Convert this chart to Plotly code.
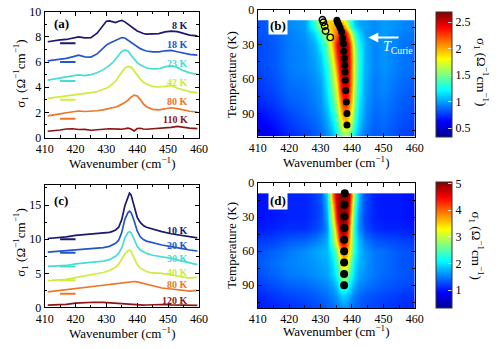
import plotly.graph_objects as go

FONT = "Liberation Serif"

# ---------------- panel (a) data ----------------
wn_a = [411, 413, 415, 417, 419, 421, 423, 425, 427, 429, 430, 431, 432, 433, 434, 435,
        436, 437, 438, 439, 440, 441, 442, 443, 445, 447, 449, 451, 453, 455, 457, 459.5]
a_8K = [7.62, 7.7, 7.76, 7.8, 7.88, 8.0, 7.92, 7.95, 8.3, 8.95, 9.25, 9.28, 9.24, 9.15, 9.25, 9.32,
        9.2, 9.0, 8.82, 8.65, 8.48, 8.36, 8.27, 8.22, 8.22, 8.27, 8.4, 8.47, 8.42, 8.28, 8.15, 8.08]
a_18K = [6.1, 6.16, 6.22, 6.3, 6.42, 6.55, 6.42, 6.4, 6.65, 7.15, 7.35, 7.5, 7.62, 7.73, 7.86, 7.95,
         7.92, 7.75, 7.55, 7.38, 7.2, 7.07, 6.96, 6.88, 6.82, 6.82, 6.9, 6.93, 6.82, 6.7, 6.62, 6.55]
a_23K = [4.57, 4.64, 4.7, 4.78, 4.9, 4.98, 4.92, 5.0, 5.15, 5.4, 5.55, 5.74, 5.95, 6.22, 6.55, 6.85,
         6.96, 6.88, 6.55, 6.22, 5.96, 5.78, 5.63, 5.53, 5.46, 5.47, 5.62, 5.72, 5.58, 5.32, 5.14, 5.03]
a_42K = [3.12, 3.18, 3.24, 3.28, 3.34, 3.42, 3.48, 3.57, 3.66, 3.82, 3.92, 4.06, 4.24, 4.48, 4.85, 5.2,
         5.52, 5.66, 5.6, 5.3, 4.95, 4.65, 4.42, 4.25, 4.07, 4.02, 4.07, 4.15, 3.92, 3.76, 3.65, 3.55]
a_80K = [1.72, 1.78, 1.88, 1.97, 2.06, 2.11, 2.07, 2.09, 2.13, 2.2, 2.25, 2.3, 2.36, 2.43, 2.52, 2.62,
         2.78, 2.98, 3.22, 3.37, 3.3, 3.02, 2.68, 2.45, 2.24, 2.2, 2.29, 2.37, 2.3, 2.18, 2.09, 2.03]
a_110K = [0.5, 0.53, 0.6, 0.68, 0.7, 0.64, 0.65, 0.58, 0.6, 0.66, 0.68, 0.7, 0.71, 0.69, 0.67, 0.66,
          0.7, 0.75, 0.68, 0.52, 0.72, 0.74, 0.68, 0.66, 0.7, 0.72, 0.76, 0.81, 0.88, 0.8, 0.75, 0.71]
labels_a = ["8 K", "18 K", "23 K", "42 K", "80 K", "110 K"]
label_y_a = [8.9, 7.4, 5.9, 4.4, 2.9, 1.4]
zero_a = [7.5, 6.0, 4.5, 3.0, 1.5]

# ---------------- panel (c) data ----------------
wn_c = [411, 414, 417, 420, 423, 426, 429, 431, 432, 433, 434, 435, 436, 437, 437.5, 438,
        439, 440, 441, 442, 443, 445, 448, 451, 454, 457, 459.5]
c_10K = [10.1, 10.2, 10.35, 10.55, 10.68, 10.72, 10.85, 11.0, 11.15, 11.35, 11.75, 12.9, 14.9, 16.3, 16.75, 16.5,
         14.8, 13.2, 12.45, 12.0, 11.75, 11.45, 11.1, 10.8, 10.6, 10.35, 10.2]
c_20K = [8.1, 8.2, 8.3, 8.45, 8.55, 8.65, 8.77, 8.95, 9.12, 9.4, 9.85, 11.0, 12.9, 13.9, 14.1, 13.9,
         12.7, 11.2, 10.35, 9.95, 9.72, 9.48, 9.15, 8.92, 8.65, 8.42, 8.27]
c_30K = [6.02, 6.06, 6.15, 6.38, 6.53, 6.63, 6.78, 7.0, 7.25, 7.5, 7.95, 8.75, 10.2, 11.0, 11.1, 10.95,
         10.0, 8.95, 8.4, 8.1, 7.92, 7.65, 7.48, 7.2, 6.85, 6.5, 6.27]
c_40K = [3.92, 4.0, 4.12, 4.37, 4.6, 4.85, 5.12, 5.42, 5.62, 5.9, 6.35, 7.05, 7.85, 8.3, 8.37, 8.2,
         7.3, 6.3, 5.75, 5.45, 5.27, 5.05, 5.0, 4.75, 4.48, 4.3, 4.42]
c_80K = [2.27, 2.42, 2.56, 2.74, 2.9, 3.06, 3.24, 3.36, 3.42, 3.48, 3.55, 3.62, 3.68, 3.74, 3.77, 3.8,
         3.8, 3.74, 3.62, 3.5, 3.36, 3.1, 2.85, 2.7, 2.55, 2.4, 2.5]
c_120K = [0.33, 0.38, 0.46, 0.64, 0.72, 0.76, 0.74, 0.68, 0.63, 0.58, 0.53, 0.49, 0.44, 0.42, 0.4, 0.38,
          0.34, 0.33, 0.34, 0.35, 0.36, 0.41, 0.43, 0.37, 0.33, 0.3, 0.3]
labels_c = ["10 K", "20 K", "30 K", "40 K", "80 K", "120 K"]
label_y_c = [11.3, 9.1, 7.1, 5.1, 3.3, 1.0]
zero_c = [10, 8, 6, 4, 2]

colors = ["rgb(28,24,110)", "rgb(35,85,205)", "rgb(70,222,212)",
          "rgb(205,236,60)", "rgb(236,118,42)", "rgb(140,22,22)"]

# ---------------- heatmap data (b) and (d) ----------------
wn_hm = [410, 415, 420, 425, 428, 430, 432, 434, 435, 436, 437, 438, 439, 440, 441, 442, 444, 447, 450, 455, 460]
T_hm = [9.5, 10.5, 15, 20, 30, 40, 50, 60, 70, 80, 90, 100, 110]
z_b = [
    [0.82, 0.86, 0.95, 1.0, 1.35, 1.72, 1.9, 1.92, 1.95, 1.95, 1.9, 1.65, 1.45, 1.25, 1.1, 1.02, 1.0, 0.96, 1.0, 0.96, 0.92],
    [0.82, 0.86, 0.95, 1.0, 1.35, 1.72, 1.9, 1.95, 2.0, 2.0, 1.95, 1.7, 1.45, 1.25, 1.1, 1.02, 1.0, 0.96, 1.0, 0.96, 0.92],
    [0.82, 0.86, 0.95, 1.0, 1.3, 1.62, 1.85, 2.0, 2.1, 2.2, 2.2, 1.98, 1.6, 1.3, 1.15, 1.05, 1.0, 0.96, 1.0, 0.96, 0.92],
    [0.82, 0.86, 0.93, 0.98, 1.15, 1.4, 1.65, 1.98, 2.18, 2.4, 2.5, 2.42, 2.05, 1.65, 1.35, 1.15, 1.0, 0.95, 1.0, 0.94, 0.9],
    [0.8, 0.84, 0.92, 0.96, 1.05, 1.22, 1.48, 2.02, 2.4, 2.6, 2.65, 2.6, 2.42, 1.95, 1.55, 1.25, 1.05, 0.94, 0.98, 0.92, 0.88],
    [0.8, 0.84, 0.92, 0.95, 1.02, 1.12, 1.38, 1.85, 2.3, 2.55, 2.65, 2.6, 2.45, 2.05, 1.6, 1.3, 1.05, 0.94, 0.98, 0.92, 0.88],
    [0.8, 0.84, 0.92, 0.95, 1.0, 1.08, 1.28, 1.68, 2.12, 2.45, 2.6, 2.6, 2.45, 2.05, 1.6, 1.3, 1.05, 0.94, 0.98, 0.92, 0.88],
    [0.78, 0.82, 0.9, 0.92, 0.97, 1.03, 1.22, 1.58, 1.95, 2.35, 2.55, 2.6, 2.4, 2.05, 1.6, 1.26, 1.04, 0.92, 0.96, 0.9, 0.86],
    [0.75, 0.8, 0.88, 0.9, 0.95, 1.0, 1.18, 1.48, 1.8, 2.22, 2.45, 2.5, 2.35, 2.0, 1.55, 1.25, 1.02, 0.92, 0.95, 0.88, 0.84],
    [0.72, 0.77, 0.85, 0.88, 0.93, 0.98, 1.12, 1.38, 1.65, 2.02, 2.3, 2.35, 2.2, 1.9, 1.5, 1.2, 1.0, 0.9, 0.92, 0.86, 0.82],
    [0.66, 0.72, 0.8, 0.86, 0.9, 0.95, 1.06, 1.27, 1.5, 1.82, 2.1, 2.15, 2.0, 1.75, 1.4, 1.15, 0.98, 0.88, 0.9, 0.84, 0.8],
    [0.6, 0.67, 0.76, 0.82, 0.86, 0.91, 1.0, 1.16, 1.35, 1.58, 1.8, 1.85, 1.75, 1.55, 1.3, 1.1, 0.95, 0.86, 0.88, 0.82, 0.78],
    [0.56, 0.62, 0.72, 0.78, 0.83, 0.87, 0.95, 1.05, 1.2, 1.38, 1.5, 1.55, 1.45, 1.32, 1.15, 1.0, 0.9, 0.84, 0.86, 0.8, 0.76],
]
z_d = [
    [1.0, 1.05, 1.1, 1.1, 1.2, 1.35, 1.9, 4.0, 4.8, 5.0, 5.0, 5.0, 4.9, 3.8, 2.6, 1.8, 1.3, 1.1, 1.05, 1.05, 1.0],
    [1.0, 1.05, 1.1, 1.1, 1.2, 1.35, 1.9, 4.0, 4.8, 5.0, 5.0, 5.0, 4.9, 3.8, 2.6, 1.8, 1.3, 1.1, 1.05, 1.05, 1.0],
    [1.0, 1.05, 1.1, 1.1, 1.2, 1.35, 1.85, 3.8, 4.75, 5.0, 5.0, 5.0, 4.8, 3.65, 2.5, 1.75, 1.3, 1.1, 1.05, 1.05, 1.0],
    [1.0, 1.05, 1.1, 1.1, 1.2, 1.3, 1.8, 3.6, 4.7, 5.0, 5.0, 5.0, 4.7, 3.5, 2.4, 1.7, 1.3, 1.1, 1.05, 1.05, 1.0],
    [1.0, 1.05, 1.1, 1.1, 1.2, 1.3, 1.7, 3.2, 4.5, 5.0, 5.0, 4.9, 4.4, 3.2, 2.2, 1.6, 1.25, 1.1, 1.05, 1.05, 1.0],
    [1.05, 1.1, 1.15, 1.15, 1.25, 1.35, 1.6, 2.8, 4.0, 4.8, 5.0, 4.8, 4.1, 3.0, 2.1, 1.6, 1.3, 1.15, 1.1, 1.1, 1.05],
    [1.2, 1.25, 1.35, 1.4, 1.5, 1.6, 1.75, 2.6, 3.5, 4.4, 4.7, 4.5, 3.8, 2.9, 2.2, 1.8, 1.5, 1.35, 1.3, 1.25, 1.2],
    [1.3, 1.4, 1.5, 1.6, 1.7, 1.75, 1.8, 2.2, 2.8, 3.5, 4.0, 3.9, 3.4, 2.8, 2.2, 1.85, 1.65, 1.5, 1.45, 1.35, 1.3],
    [1.35, 1.45, 1.55, 1.6, 1.65, 1.7, 1.75, 2.0, 2.4, 3.0, 3.5, 3.4, 3.0, 2.4, 2.0, 1.8, 1.65, 1.5, 1.45, 1.35, 1.3],
    [1.3, 1.4, 1.5, 1.55, 1.6, 1.65, 1.7, 1.9, 2.2, 2.6, 3.0, 2.9, 2.6, 2.2, 1.9, 1.7, 1.6, 1.5, 1.42, 1.35, 1.3],
    [1.2, 1.3, 1.38, 1.42, 1.48, 1.52, 1.58, 1.7, 1.9, 2.2, 2.4, 2.35, 2.15, 1.9, 1.7, 1.58, 1.5, 1.42, 1.36, 1.3, 1.25],
    [1.1, 1.18, 1.25, 1.3, 1.35, 1.4, 1.45, 1.55, 1.65, 1.8, 1.9, 1.85, 1.75, 1.6, 1.5, 1.42, 1.35, 1.3, 1.25, 1.2, 1.15],
    [1.05, 1.1, 1.15, 1.2, 1.25, 1.3, 1.35, 1.42, 1.5, 1.55, 1.6, 1.6, 1.55, 1.48, 1.4, 1.35, 1.3, 1.25, 1.2, 1.15, 1.1],
]
filled_wn_b = [435.2, 435.4, 435.8, 436.2, 436.7, 437.0, 437.3, 437.4, 437.6, 437.7, 437.8, 437.9, 438.0, 438.2, 438.4, 438.4]
filled_T_b = [9, 11, 13, 15.5, 19, 24.5, 29.5, 36, 42, 48, 54, 61, 70, 80, 90, 100]
open_wn_b = [430.6, 430.9, 431.3, 431.6, 433.1]
open_T_b = [8.6, 10.8, 14.2, 18.3, 23.9]
filled_wn_d = [437.7, 437.6, 437.6, 437.6, 437.5, 437.5, 437.5, 437.5, 437.5]
filled_T_d = [9, 19, 29.5, 39.5, 50, 60, 70, 80, 90]

jet = [[0, "rgb(0,0,143)"], [0.125, "rgb(0,0,255)"], [0.375, "rgb(0,255,255)"],
       [0.625, "rgb(255,255,0)"], [0.875, "rgb(255,0,0)"], [1, "rgb(128,0,0)"]]

fig = go.Figure()

# panel (a)
for ys, col in zip([a_8K, a_18K, a_23K, a_42K, a_80K, a_110K], colors):
    fig.add_trace(go.Scatter(x=wn_a, y=ys, mode="lines", line=dict(color=col, width=1.7),
                             xaxis="x", yaxis="y", showlegend=False, hoverinfo="skip"))
for z0, col in zip(zero_a, colors):
    fig.add_trace(go.Scatter(x=[415, 420], y=[z0, z0], mode="lines", line=dict(color=col, width=2),
                             xaxis="x", yaxis="y", showlegend=False, hoverinfo="skip"))
# panel (c)
for ys, col in zip([c_10K, c_20K, c_30K, c_40K, c_80K, c_120K], colors):
    fig.add_trace(go.Scatter(x=wn_c, y=ys, mode="lines", line=dict(color=col, width=1.7),
                             xaxis="x3", yaxis="y3", showlegend=False, hoverinfo="skip"))
for z0, col in zip(zero_c, colors):
    fig.add_trace(go.Scatter(x=[415, 420], y=[z0, z0], mode="lines", line=dict(color=col, width=2),
                             xaxis="x3", yaxis="y3", showlegend=False, hoverinfo="skip"))

cb_common = dict(x=443 / 500, xanchor="left", thickness=16, thicknessmode="pixels",
                 lenmode="fraction", yanchor="middle", xpad=0, ypad=0,
                 ticks="inside", ticklen=4, tickcolor="rgba(255,255,255,0.8)",
                 outlinewidth=1, outlinecolor="#333",
                 tickfont=dict(family=FONT, size=12, color="black"))

# panel (b)
fig.add_trace(go.Heatmap(x=wn_hm, y=T_hm, z=z_b, colorscale=jet, zmin=0.34, zmax=2.7,
                         zsmooth="best", xaxis="x2", yaxis="y2", hoverinfo="skip",
                         colorbar=dict(**cb_common, y=1 - 70 / 349, len=130 / 349,
                                       tickvals=[0.5, 1, 1.5, 2, 2.5],
                                       ticktext=["0.5", "1", "1.5", "2", "2.5"])))
fig.add_trace(go.Scatter(x=filled_wn_b, y=filled_T_b, mode="markers",
                         marker=dict(color="black", size=7), xaxis="x2", yaxis="y2",
                         showlegend=False, hoverinfo="skip"))
fig.add_trace(go.Scatter(x=open_wn_b, y=open_T_b, mode="markers",
                         marker=dict(symbol="circle-open", color="black", size=6.5, line=dict(width=1.4)),
                         xaxis="x2", yaxis="y2", showlegend=False, hoverinfo="skip"))

# panel (d)
fig.add_trace(go.Heatmap(x=wn_hm, y=T_hm, z=z_d, colorscale=jet, zmin=0.35, zmax=5.07,
                         zsmooth="best", xaxis="x4", yaxis="y4", hoverinfo="skip",
                         colorbar=dict(**cb_common, y=1 - 247.5 / 349, len=131 / 349,
                                       tickvals=[1, 2, 3, 4, 5])))
fig.add_trace(go.Scatter(x=filled_wn_d, y=filled_T_d, mode="markers",
                         marker=dict(color="black", size=8), xaxis="x4", yaxis="y4",
                         showlegend=False, hoverinfo="skip"))

tickfont = dict(family=FONT, size=12, color="black")


def ax(domain, anchor, rng, dtick, minor, tickvals=None):
    d = dict(domain=domain, anchor=anchor, range=rng, showline=True, linecolor="black",
             linewidth=1, mirror="allticks", ticks="inside", ticklen=4, tickcolor="black",
             tickfont=tickfont, showgrid=False, zeroline=False,
             minor=dict(dtick=minor, ticks="inside", ticklen=2.5, tickcolor="black", showgrid=False))
    if tickvals is not None:
        d["tickvals"] = tickvals
    else:
        d["dtick"] = dtick
        d["tick0"] = 0
    return d


xa_dom = [37 / 500, 197 / 500]
xb_dom = [258 / 500, 421 / 500]
ya_dom = [1 - 136 / 349, 1 - 5 / 349]
yb_dom = [1 - 135 / 349, 1 - 3 / 349]
yc_dom = [1 - 313 / 349, 1 - 185 / 349]
yd_dom = [1 - 313.5 / 349, 1 - 183.5 / 349]

fig.update_layout(
    width=500, height=349, autosize=False,
    margin=dict(l=0, r=0, t=0, b=0),
    paper_bgcolor="white", plot_bgcolor="white",
    font=dict(family=FONT, size=12, color="black"),
    showlegend=False,
    xaxis=ax(xa_dom, "y", [410, 460], 10, 5),
    yaxis=ax(ya_dom, "x", [0, 10], 2, 1),
    xaxis2=ax(xb_dom, "y2", [410, 460], 10, 5),
    yaxis2=ax(yb_dom, "x2", [110, 0], None, 15, tickvals=[0, 30, 60, 90]),
    xaxis3=ax(xa_dom, "y3", [410, 460], 10, 5),
    yaxis3=ax(yc_dom, "x3", [0, 18], 5, 2.5),
    xaxis4=ax(xb_dom, "y4", [410, 460], 10, 5),
    yaxis4=ax(yd_dom, "x4", [110, 0], None, 15, tickvals=[0, 30, 60, 90]),
)

ann = []
sig = "σ<sub>1</sub> (Ω<sup>−1</sup>cm<sup>−1</sup>)"
wav = "Wavenumber (cm<sup>−1</sup>)"
tf = dict(family=FONT, size=13, color="black")
for yy in [1 - 70 / 349, 1 - 246 / 349]:
    ann.append(dict(text=sig, x=12 / 500, y=yy, xref="paper", yref="paper", textangle=-90,
                    showarrow=False, font=tf, xanchor="center", yanchor="middle"))
for yy in [1 - 70 / 349, 1 - 248 / 349]:
    ann.append(dict(text="Temperature (K)", x=230 / 500, y=yy, xref="paper", yref="paper",
                    textangle=-90, showarrow=False, font=tf, xanchor="center", yanchor="middle"))
for xx, yy in [(117 / 500, 1 - 163 / 349), (339.5 / 500, 1 - 161 / 349),
               (117 / 500, 1 - 340 / 349), (339.5 / 500, 1 - 338 / 349)]:
    ann.append(dict(text=wav, x=xx, y=yy, xref="paper", yref="paper", showarrow=False,
                    font=tf, xanchor="center", yanchor="middle"))
for xx, yy in [(490 / 500, 1 - 68 / 349), (485 / 500, 1 - 248 / 349)]:
    ann.append(dict(text=sig, x=xx, y=yy, xref="paper", yref="paper", textangle=90,
                    showarrow=False, font=tf, xanchor="center", yanchor="middle"))
# panel letters
pf = dict(family=FONT, size=13, color="black")
ann.append(dict(text="<b>(a)</b>", x=415.3, y=9.05, xref="x", yref="y", showarrow=False, font=pf))
ann.append(dict(text="<b>(c)</b>", x=415.3, y=15.7, xref="x3", yref="y3", showarrow=False, font=pf))
ann.append(dict(text="<b>(b)</b>", x=416.3, y=13.3, xref="x2", yref="y2", showarrow=False, font=pf,
                bgcolor="white", borderpad=1))
ann.append(dict(text="<b>(d)</b>", x=416.4, y=15.2, xref="x4", yref="y4", showarrow=False, font=pf,
                bgcolor="white", borderpad=1))
# curve labels
lf = 10
for t, yy, col in zip(labels_a, label_y_a, colors):
    ann.append(dict(text="<b>" + t + "</b>", x=457, y=yy, xref="x", yref="y", showarrow=False,
                    xanchor="right", yanchor="middle", font=dict(family=FONT, size=lf, color=col)))
for t, yy, col in zip(labels_c, label_y_c, colors):
    ann.append(dict(text="<b>" + t + "</b>", x=457, y=yy, xref="x3", yref="y3", showarrow=False,
                    xanchor="right", yanchor="middle", font=dict(family=FONT, size=lf, color=col)))
# T_Curie arrow
ann.append(dict(x=445.2, y=24, ax=455.3, ay=24, xref="x2", yref="y2", axref="x2", ayref="y2",
                showarrow=True, arrowhead=2, arrowsize=1, arrowwidth=2, arrowcolor="white", text=""))
ann.append(dict(text="<i>T</i><sub>Curie</sub>", x=454.5, y=32.5, xref="x2", yref="y2",
                showarrow=False, font=dict(family=FONT, size=14, color="white")))
fig.update_layout(annotations=ann)

fig.write_html("out.html")
